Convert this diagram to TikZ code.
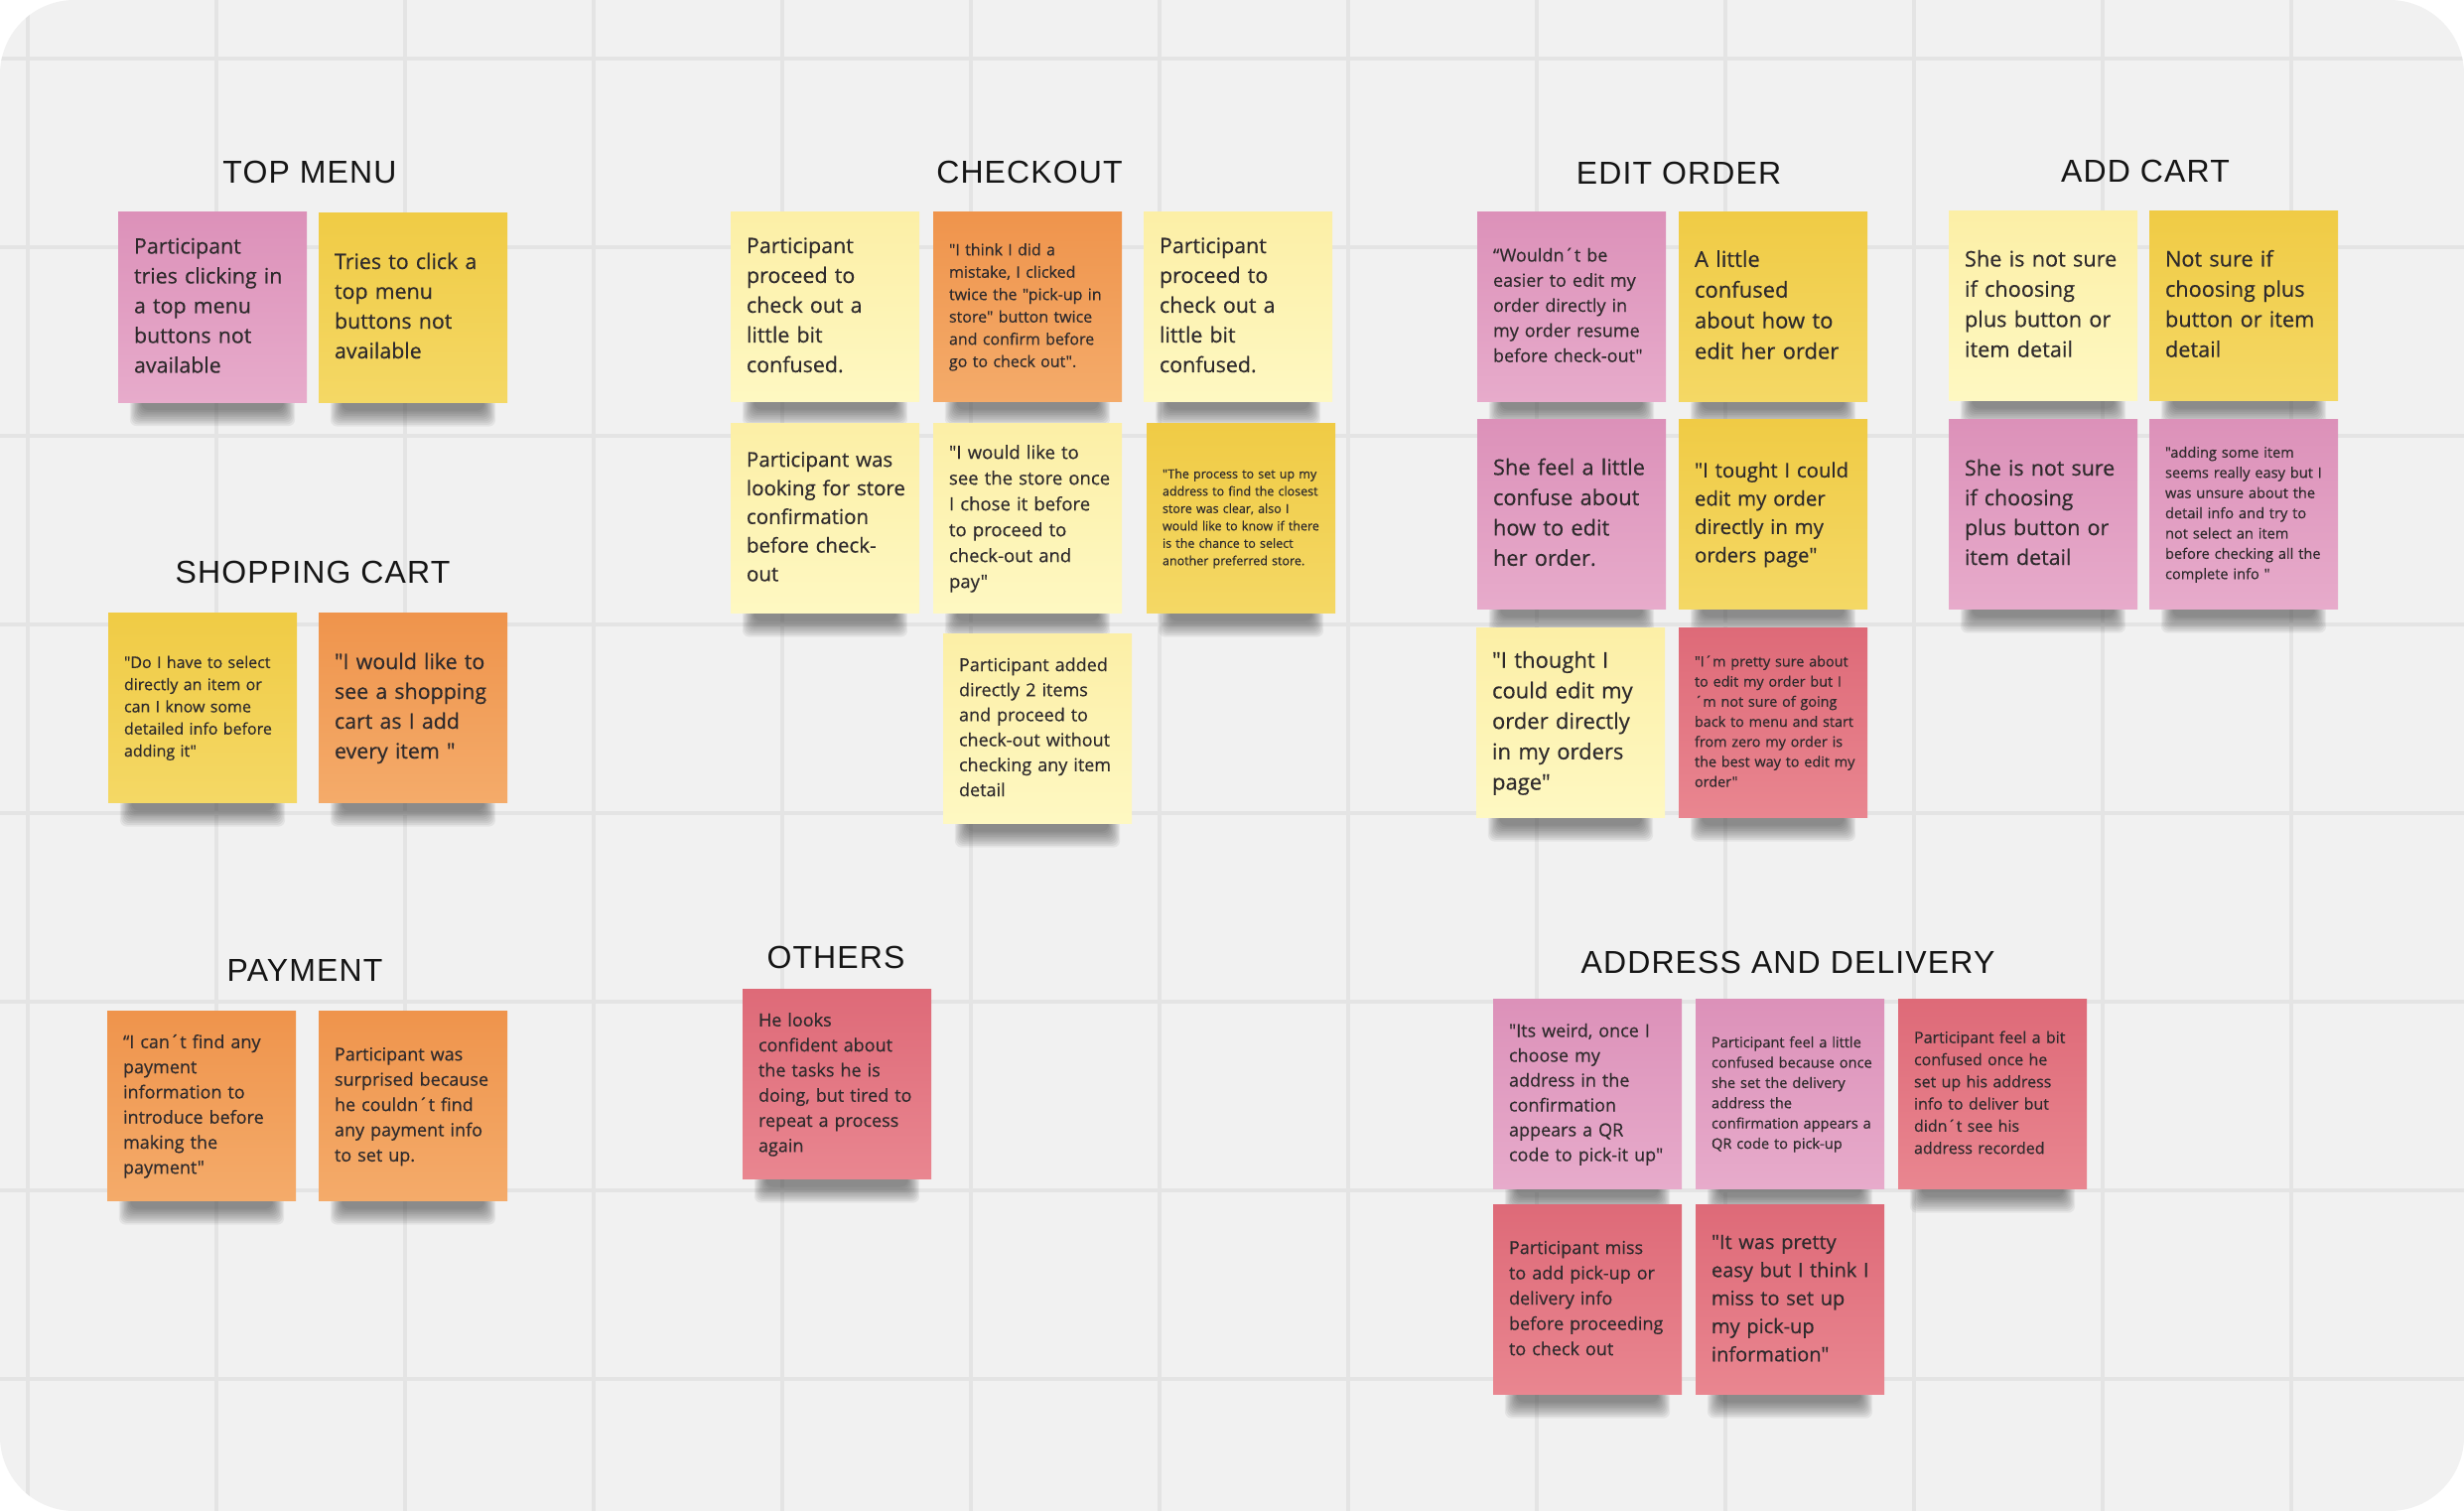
\documentclass[tikz,border=0pt]{standalone}
\usepackage{fontspec}
\setmainfont{Open Sans}
\newfontfamily\notefont[FakeBold=0.4]{Open Sans}
\newfontfamily\titlefont[LetterSpace=3.5]{Liberation Sans}
\pgfdeclarelayer{bglayer}
\pgfdeclarelayer{shadowlayer}
\pgfsetlayers{bglayer,shadowlayer,main}
\definecolor{bgc}{HTML}{F1F1F1}
\definecolor{gridc}{HTML}{E4E4E4}
\definecolor{titc}{HTML}{151515}
\definecolor{txt}{HTML}{2E2A2C}
\definecolor{shc}{HTML}{3A3A3A}
\definecolor{pinkT}{HTML}{DC91B9}\definecolor{pinkB}{HTML}{E7ABCB}
\definecolor{yelT}{HTML}{F0CB45}\definecolor{yelB}{HTML}{F4D865}
\definecolor{lyelT}{HTML}{FCEFA6}\definecolor{lyelB}{HTML}{FEF8C2}
\definecolor{orT}{HTML}{EF944C}\definecolor{orB}{HTML}{F4AB6A}
\definecolor{redT}{HTML}{DE6A78}\definecolor{redB}{HTML}{E98690}
\newcommand\ls[1]{\begin{tabular}{@{}l@{}}#1\end{tabular}}
\newcommand\noteshadow[1]{%
  \begin{pgfonlayer}{shadowlayer}
  \foreach \k in {0,...,9}{
    \fill[shc, opacity=0.075, rounded corners=7pt]
      ([xshift={12pt+1.3pt*\k}, yshift=4pt]#1.south west) rectangle
      ([xshift={-12pt-1.3pt*\k}, yshift={-24pt+1.8pt*\k}]#1.south east);
  }
  \end{pgfonlayer}}
\tikzset{
  note/.style={minimum width=190pt, minimum height=191pt, inner sep=0pt,
    text width=158pt, align=left, text=txt},
  pinknote/.style={note, top color=pinkT, bottom color=pinkB},
  yelnote/.style={note, top color=yelT, bottom color=yelB},
  lyelnote/.style={note, top color=lyelT, bottom color=lyelB},
  ornote/.style={note, top color=orT, bottom color=orB},
  rednote/.style={note, top color=redT, bottom color=redB},
  fz/.style 2 args={font=\notefont\fontsize{#1}{#2}\selectfont},
  title/.style={font=\titlefont\fontsize{32}{38}\selectfont, text=titc, anchor=base, inner sep=0pt},
}
\begin{document}
\begin{tikzpicture}[x=1pt,y=-1pt]
\useasboundingbox (0,0) rectangle (2482,1522);
\begin{pgfonlayer}{bglayer}
\fill[white] (0,0) rectangle (2482,1522);
\begin{scope}
  \clip[rounded corners=75pt] (0,0) rectangle (2482,1522);
  \fill[bgc] (0,0) rectangle (2482,1522);
  \foreach \gx in {28,218,...,2308} \draw[gridc, line width=4pt] (\gx,0) -- (\gx,1522);
  \foreach \gy in {59,249,...,1389} \draw[gridc, line width=4pt] (0,\gy) -- (2482,\gy);
\end{scope}
\end{pgfonlayer}

% titles
\node[title] (tTop) at (312,185) {TOP MENU};
\node[title] (tShop) at (315,587) {SHOPPING CART};
\node[title] (tPay) at (307,988) {PAYMENT};
\node[title] (tCheck) at (1037,185) {CHECKOUT};
\node[title] (tEdit) at (1691,186) {EDIT ORDER};
\node[title] (tAdd) at (2161,184) {ADD CART};
\node[title] (tOth) at (842,975) {OTHERS};
\node[title] (tAddr) at (1801,980) {ADDRESS AND DELIVERY};

% TOP MENU
\node[pinknote, fz={21.4}{30}] (tm1) at (214,309.5) {\ls{Participant\\tries clicking in\\a top menu\\buttons not\\available}};
\node[yelnote, fz={21.4}{30}] (tm2) at (416,310) {\ls{Tries to click a\\top menu\\buttons not\\available}};

% SHOPPING CART
\node[yelnote, fz={16}{22.3}] (sc1) at (204,713) {\ls{"Do I have to select\\directly an item or\\can I know some\\detailed info before\\adding it"}};
\node[ornote, fz={21.4}{30}] (sc2) at (416,713) {\ls{"I would like to\\see a shopping\\cart as I add\\every item "}};

% PAYMENT
\node[ornote, fz={18}{25.3}] (p1) at (203,1114) {\ls{“I can´t find any\\payment\\information to\\introduce before\\making the\\payment"}};
\node[ornote, fz={18}{25.4}] (p2) at (416,1114) {\ls{Participant was\\surprised because\\he couldn´t find\\any payment info\\to set up.}};

% CHECKOUT
\node[lyelnote, fz={21.4}{30}] (co1) at (831,309) {\ls{Participant\\proceed to\\check out a\\little bit\\confused.}};
\node[ornote, fz={16}{22.5}] (co2) at (1035,309) {\ls{"I think I did a\\mistake, I clicked\\twice the "pick-up in\\store" button twice\\and confirm before\\go to check out".}};
\node[lyelnote, fz={21.4}{30}] (co3) at (1247,309) {\ls{Participant\\proceed to\\check out a\\little bit\\confused.}};
\node[lyelnote, fz={20.5}{28.8}] (co4) at (831,522) {\ls{Participant was\\looking for store\\confirmation\\before check-\\out}};
\node[lyelnote, fz={18.5}{26}] (co5) at (1035,522) {\ls{"I would like to\\see the store once\\I chose it before\\to proceed to\\check-out and\\pay"}};
\node[yelnote, fz={12.5}{17.5}] (co6) at (1250,522) {\ls{"The process to set up my\\address to find the closest\\store was clear, also I\\would like to know if there\\is the chance to select\\another preferred store.}};
\node[lyelnote, fz={18}{25.2}] (co7) at (1045,734) {\ls{Participant added\\directly 2 items\\and proceed to\\check-out without\\checking any item\\detail}};

% EDIT ORDER
\node[pinknote, fz={18}{25.3}] (e1) at (1583,309) {\ls{“Wouldn´t be\\easier to edit my\\order directly in\\my order resume\\before check-out"}};
\node[yelnote, fz={22}{30.9}] (e2) at (1786,309) {\ls{A little\\confused\\about how to\\edit her order}};
\node[pinknote, fz={21.8}{30.5}] (e3) at (1583,518) {\ls{She feel a little\\confuse about\\how to edit\\her order.}};
\node[yelnote, fz={20.4}{28.5}] (e4) at (1786,518) {\ls{"I tought I could\\edit my order\\directly in my\\orders page"}};
\node[lyelnote, fz={22}{30.7}] (e5) at (1582,728) {\ls{"I thought I\\could edit my\\order directly\\in my orders\\page"}};
\node[rednote, fz={14.4}{20.2}] (e6) at (1786,728) {\ls{"I´m pretty sure about\\to edit my order but I\\´m not sure of going\\back to menu and start\\from zero my order is\\the best way to edit my\\order"}};

% ADD CART
\node[lyelnote, fz={21.7}{30.4}] (a1) at (2058,308) {\ls{She is not sure\\if choosing\\plus button or\\item detail}};
\node[yelnote, fz={21.7}{30.4}] (a2) at (2260,308) {\ls{Not sure if\\choosing plus\\button or item\\detail}};
\node[pinknote, fz={21.4}{30}] (a3) at (2058,518) {\ls{She is not sure\\if choosing\\plus button or\\item detail}};
\node[pinknote, fz={14.6}{20.4}] (a4) at (2260,518) {\ls{"adding some item\\seems really easy but I\\was unsure about the\\detail info and try to\\not select an item\\before checking all the\\complete info "}};

% OTHERS
\node[rednote, fz={18}{25.3}] (o1) at (843,1092) {\ls{He looks\\confident about\\the tasks he is\\doing, but tired to\\repeat a process\\again}};

% ADDRESS AND DELIVERY
\node[pinknote, fz={18}{25}] (ad1) at (1599,1102) {\ls{"Its weird, once I\\choose my\\address in the\\confirmation\\appears a QR\\code to pick-it up"}};
\node[pinknote, fz={14.6}{20.4}] (ad2) at (1803,1102) {\ls{Participant feel a little\\confused because once\\she set the delivery\\address the\\confirmation appears a\\QR code to pick-up}};
\node[rednote, fz={16}{22.3}] (ad3) at (2007,1102) {\ls{Participant feel a bit\\confused once he\\set up his address\\info to deliver but\\didn´t see his\\address recorded}};
\node[rednote, fz={18}{25.5}] (ad4) at (1599,1309) {\ls{Participant miss\\to add pick-up or\\delivery info\\before proceeding\\to check out}};
\node[rednote, fz={20}{28.3}] (ad5) at (1803,1309) {\ls{"It was pretty\\easy but I think I\\miss to set up\\my pick-up\\information"}};

% shadows under the notes
\foreach \nn in {tm1,tm2,sc1,sc2,p1,p2,co1,co2,co3,co4,co5,co6,co7,e1,e2,e3,e4,e5,e6,a1,a2,a3,a4,o1,ad1,ad2,ad3,ad4,ad5}{\noteshadow{\nn}}
\end{tikzpicture}
\end{document}
